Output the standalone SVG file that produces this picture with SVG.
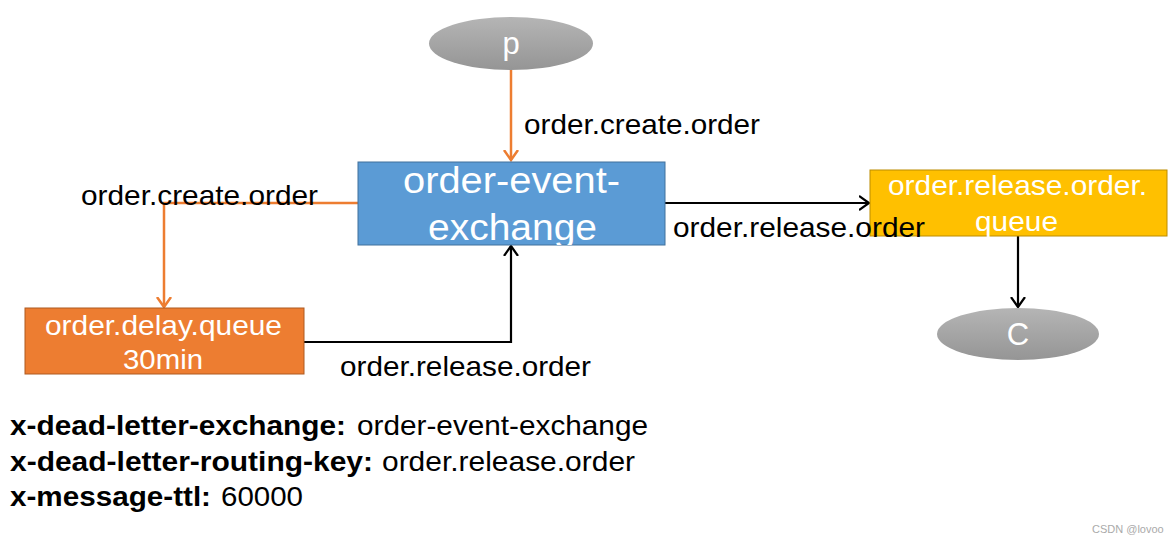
<svg xmlns="http://www.w3.org/2000/svg" width="1173" height="543" viewBox="0 0 1173 543">
<style>
text{font-family:"Liberation Sans",Arial,sans-serif}
.lbl{font-size:28px;fill:#000}
.wt{fill:#fff}
.orange{stroke:#ED7D31;stroke-width:2.5;fill:none}
.black{stroke:#000;stroke-width:2.2;fill:none}
.b{font-weight:bold}
</style>
<defs>
<linearGradient id="gray" x1="0" y1="0" x2="0" y2="1">
<stop offset="0" stop-color="#b5b5b5"/>
<stop offset="1" stop-color="#959595"/>
</linearGradient>
<marker id="ao" markerUnits="userSpaceOnUse" markerWidth="20" markerHeight="20" refX="10" refY="10" orient="auto">
<polyline points="0,3 10,10 0,17" fill="none" stroke="#ED7D31" stroke-width="2.5"/>
</marker>
<marker id="ab" markerUnits="userSpaceOnUse" markerWidth="20" markerHeight="20" refX="10" refY="10" orient="auto">
<polyline points="0,3 10,10 0,17" fill="none" stroke="#000" stroke-width="2.2"/>
</marker>
<clipPath id="cx"><rect x="358" y="162" width="307" height="83"/></clipPath>
</defs>
<rect width="1173" height="543" fill="#fff"/>
<g id="connectors">
<line class="orange" x1="511" y1="70" x2="511" y2="160" marker-end="url(#ao)"/>
<polyline class="orange" points="358,203 164,203 164,307" marker-end="url(#ao)"/>
<polyline class="black" points="304,342 511,342 511,246" marker-end="url(#ab)"/>
<line class="black" x1="665" y1="203" x2="869" y2="203" marker-end="url(#ab)"/>
<line class="black" x1="1018" y1="236" x2="1018" y2="307" marker-end="url(#ab)"/>
</g>
<g id="node-p">
<ellipse cx="511" cy="43.5" rx="82" ry="26.5" fill="url(#gray)"/>
<text x="511" y="54" class="wt" font-size="31" text-anchor="middle">p</text>
</g>
<g id="node-exchange">
<rect x="358" y="162" width="307" height="83" fill="#5B9BD5" stroke="#41719C" stroke-width="1"/>
<g clip-path="url(#cx)">
<text x="511.5" y="193" class="wt" font-size="36" text-anchor="middle" textLength="217" lengthAdjust="spacingAndGlyphs">order-event-</text>
<text x="512.5" y="240" class="wt" font-size="36" text-anchor="middle" textLength="169" lengthAdjust="spacingAndGlyphs">exchange</text>
</g>
</g>
<g id="node-delay">
<rect x="25" y="308" width="279" height="66" fill="#ED7D31" stroke="#AE5A21" stroke-width="1"/>
<text x="163.5" y="335" class="wt" font-size="28" text-anchor="middle" textLength="237" lengthAdjust="spacingAndGlyphs">order.delay.queue</text>
<text x="163" y="369" class="wt" font-size="28" text-anchor="middle" textLength="80" lengthAdjust="spacingAndGlyphs">30min</text>
</g>
<g id="node-release-queue">
<rect x="870" y="170" width="297" height="66" fill="#FFC000" stroke="#BC8C00" stroke-width="1"/>
<text x="1017.5" y="195" class="wt" font-size="28" text-anchor="middle" textLength="259" lengthAdjust="spacingAndGlyphs">order.release.order.</text>
<text x="1016.5" y="231" class="wt" font-size="28" text-anchor="middle" textLength="83" lengthAdjust="spacingAndGlyphs">queue</text>
</g>
<g id="node-c">
<ellipse cx="1018" cy="334" rx="81" ry="26" fill="url(#gray)"/>
<text x="1018" y="345" class="wt" font-size="31" text-anchor="middle">C</text>
</g>
<g id="labels">
<text x="524" y="134" class="lbl" textLength="236" lengthAdjust="spacingAndGlyphs">order.create.order</text>
<text x="81" y="205" class="lbl" textLength="237" lengthAdjust="spacingAndGlyphs">order.create.order</text>
<text x="673" y="237" class="lbl" textLength="252" lengthAdjust="spacingAndGlyphs">order.release.order</text>
<text x="340" y="376" class="lbl" textLength="251" lengthAdjust="spacingAndGlyphs">order.release.order</text>
</g>
<g id="args">
<text y="435" class="lbl"><tspan x="10" class="b" textLength="336" lengthAdjust="spacingAndGlyphs">x-dead-letter-exchange:</tspan><tspan x="357" textLength="291" lengthAdjust="spacingAndGlyphs">order-event-exchange</tspan></text>
<text y="471" class="lbl"><tspan x="10" class="b" textLength="363" lengthAdjust="spacingAndGlyphs">x-dead-letter-routing-key:</tspan><tspan x="382" textLength="253" lengthAdjust="spacingAndGlyphs">order.release.order</tspan></text>
<text y="506" class="lbl"><tspan x="10" class="b" textLength="201" lengthAdjust="spacingAndGlyphs">x-message-ttl:</tspan><tspan x="221" textLength="82" lengthAdjust="spacingAndGlyphs">60000</tspan></text>
</g>
<text x="1092" y="533" font-size="11" fill="#aaa">CSDN @lovoo</text>
</svg>
